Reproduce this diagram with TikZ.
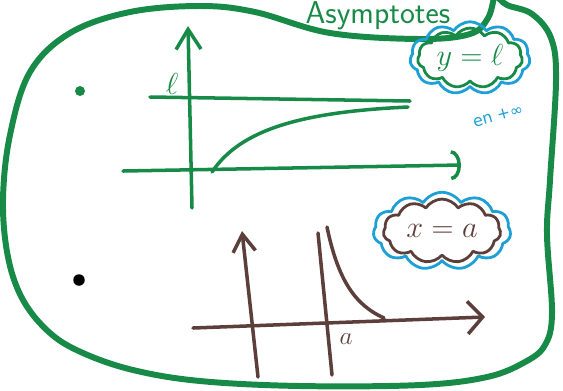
\documentclass[tikz,border=0pt]{standalone}
\usepackage{fontspec}
\usetikzlibrary{arrows.meta, shapes.symbols}
\newfontfamily\notefont{DejaVu Sans}

\begin{document}
\begin{tikzpicture}[x=0.02cm, y=-0.02cm, line cap=round, line join=round,
    axisline/.style={line width=2pt},
    frameline/.style={line width=3.4pt, draw=skgreen},
    bubble/.style={cloud, cloud puffs=11, cloud puff arc=115, aspect=2, inner sep=0pt},
    dotmark/.style={circle, inner sep=0pt, minimum size=2mm}
]

% Colores
\definecolor{skgreen}{RGB}{24, 138, 72}
\definecolor{skblue}{RGB}{30, 160, 215}
\definecolor{skbrown}{RGB}{92, 62, 58}

\useasboundingbox (0,0) rectangle (563,390);
\clip (0,0) rectangle (563,390);

% ============ Cadre et titre ============
\draw[frameline] plot[smooth, tension=0.6] coordinates {
    (497,-4) (507,5) (532,14) (551,38) (556,80) (550,180) (547,235) (552,313)
    (545,345) (525,362) (487,377) (420,385) (300,386) (200,381) (133,370)
    (83,353) (50,333) (23,300) (8,257) (3,200) (10,135) (30,72) (70,33)
    (130,12) (200,6) (255,12) (330,33) (420,39) (470,34) (488,18) (494,-4)};
\node[text=skgreen, font=\sffamily\fontsize{18}{18}\selectfont, anchor=base]
    (titre) at (378,23) {Asymptotes};

% ============ Asymptote horizontale ============
\coordinate (ybot) at (192,208);
\coordinate (ytop) at (188,26);
\coordinate (xleft) at (123,171);
\coordinate (xright) at (461,165);
\coordinate (lleft) at (150,97);
\coordinate (lright) at (410,101);
\node[dotmark, fill=skgreen] (puce1) at (80,91) {};
\draw[axisline, skgreen, -{Straight Barb[length=4mm, width=5mm]}] (ybot) -- (ytop);
\draw[axisline, skgreen, -{Arc Barb[length=2mm, width=6mm]}] (xleft) -- (xright);
\draw[axisline, skgreen] (lleft) -- (lright);
\draw[axisline, skgreen] (212,172) .. controls (240,130) and (300,112) .. (408,107);
\node[text=skgreen, font=\LARGE, anchor=south, inner sep=1pt] (lab) at (172,97) {$\ell$};

\node[bubble, draw=skblue, line width=1.6pt, minimum width=2.4cm,
    minimum height=1.45cm] (nuage1) at (470,58) {};
\node[bubble, draw=skgreen, line width=1.6pt, minimum width=2.1cm,
    minimum height=1.1cm, text=skgreen, font=\LARGE] (yeq) at (470,58) {$y=\ell$};
\node[text=skblue, font=\notefont\small, rotate=15, inner sep=0pt] (enplus) at (498,116) {en +∞};

% ============ Asymptote verticale ============
\coordinate (vbot) at (258,377);
\coordinate (vtop) at (242,231);
\coordinate (hleft) at (193,328);
\coordinate (hright) at (485,317);
\coordinate (abot) at (332,375);
\coordinate (atop) at (318,233);
\node[dotmark, fill=black, minimum size=2.3mm] (puce2) at (79,280) {};
\draw[axisline, skbrown, -{Straight Barb[length=3.5mm, width=4.5mm]}] (vbot) -- (vtop);
\draw[axisline, skbrown, -{Straight Barb[length=3mm, width=6.5mm]}] (hleft) -- (hright);
\draw[axisline, skbrown] (abot) -- (atop);
\draw[axisline, skbrown] (327,227) .. controls (338,280) and (355,305) .. (384,318);
\node[text=skbrown, font=\Large] (laba) at (346,339) {$a$};

\node[bubble, draw=skblue, line width=1.6pt, minimum width=2.75cm,
    minimum height=1.55cm] (nuage2) at (442,231) {};
\node[bubble, draw=skbrown, line width=1.6pt, minimum width=2.35cm,
    minimum height=1.1cm, text=skbrown, font=\LARGE] (xeq) at (442,231) {$x=a$};

\end{tikzpicture}
\end{document}
